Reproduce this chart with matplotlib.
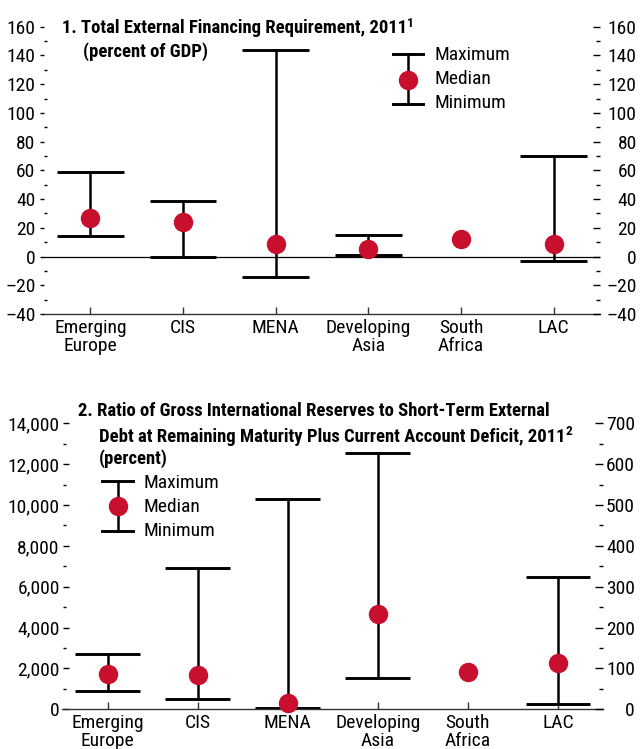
import numpy as np
import matplotlib
matplotlib.use("Agg")
import matplotlib.pyplot as plt
from matplotlib import font_manager as fm
from matplotlib.ticker import MultipleLocator, FixedLocator

# ---------------- data ----------------
categories = ["Emerging\nEurope", "CIS", "MENA", "Developing\nAsia", "South\nAfrica", "LAC"]

# Panel 1: total external financing requirement (percent of GDP)
fin_max = [59, 39, 144, 15, np.nan, 70]
fin_median = [27, 24, 9, 5, 12, 9]
fin_min = [14, 0, -14, 1, np.nan, -3]

# Panel 2: reserves ratio (percent)
res_max = [2690, 6900, 10300, 12550, np.nan, 6500]
res_median = [1720, 1700, 330, 4650, 1830, 2250]
res_min = [880, 500, 80, 1550, np.nan, 250]

fin_ticks = list(range(-40, 161, 20))
res_left_ticks = list(range(0, 14001, 2000))
res_right_ticks = list(range(0, 701, 100))

title1 = "1. Total External Financing Requirement, 2011"
title1_sup = "1"
subtitle1 = "(percent of GDP)"
title2a = "2. Ratio of Gross International Reserves to Short-Term External"
title2b = "Debt at Remaining Maturity Plus Current Account Deficit, 2011"
title2b_sup = "2"
subtitle2 = "(percent)"
legend_labels = ["Maximum", "Median", "Minimum"]

RED = "#C8102E"


# ---------------- fonts ----------------
def pick_font():
    entries = fm.fontManager.ttflist
    names = {e.name for e in entries}
    for cand in ["Liberation Sans Narrow", "Arial Narrow", "Roboto Condensed", "Open Sans Condensed"]:
        if cand in names:
            return cand, "normal"
    for e in entries:
        if e.name == "DejaVu Sans" and str(e.stretch) in ("condensed", "semi-condensed"):
            return "DejaVu Sans", "condensed"
    return "Liberation Sans", "normal"


FAMILY, STRETCH = pick_font()
plt.rcParams["font.family"] = [FAMILY, "DejaVu Sans"]
plt.rcParams["font.stretch"] = STRETCH
FS = 14

W, H = 641, 749
fig = plt.figure(figsize=(W / 100, H / 100), dpi=100)
renderer = fig.canvas.get_renderer()

# size the bold titles so the long second line spans about as wide as in the original
_probe = fig.text(0, 0, title2b, fontsize=14, fontweight="bold")
_w = _probe.get_window_extent(renderer).width
_probe.remove()
TFS = float(np.clip(14 * 470.0 / _w, 11, 16))


def px_axes(l, t, r, b):
    return fig.add_axes([l / W, 1 - b / H, (r - l) / W, (b - t) / H])


def dash(v):
    return ("\u2013" + str(abs(v))) if v < 0 else str(v)


def title_text(xpx, ypx, txt, sup=None):
    t = fig.text(xpx / W, 1 - ypx / H, txt, ha="left", va="baseline",
                 fontsize=TFS, fontweight="bold")
    if sup:
        bb = t.get_window_extent(renderer)
        fig.text((bb.x1 - 0.5) / W, 1 - (ypx - 6.5) / H, sup, ha="left",
                 va="baseline", fontsize=TFS * 0.72, fontweight="bold")


def draw_panel(ax, vmax, vmed, vmin):
    x = np.arange(len(categories))
    vmax = np.asarray(vmax, float)
    vmin = np.asarray(vmin, float)
    ok = ~np.isnan(vmax)
    ax.vlines(x[ok], vmin[ok], vmax[ok], color="black", lw=1.8, zorder=2)
    ax.hlines(vmax[ok], x[ok] - 0.36, x[ok] + 0.36, color="black", lw=2.1, zorder=2)
    ax.hlines(vmin[ok], x[ok] - 0.36, x[ok] + 0.36, color="black", lw=2.1, zorder=2)
    ax.plot(x, vmed, "o", ms=13, color=RED, mec=RED, zorder=4, clip_on=False)
    ax.set_xlim(-0.5, len(categories) - 0.5)
    ax.set_xticks(x)
    ax.set_xticklabels(categories, fontsize=FS, linespacing=1.0)
    ax.tick_params(axis="x", direction="in", length=4.8, width=1.0, pad=3.5,
                   color="#333333")
    for s in ("left", "right", "top"):
        ax.spines[s].set_visible(False)
    ax.spines["bottom"].set_color("#333333")
    ax.spines["bottom"].set_linewidth(1.0)
    ax.set_facecolor("none")


def legend_glyph(ax, xl, xr, ymax, ymed, ymin, xt, ty):
    xc = (xl + xr) / 2
    kw = dict(transform=ax.transAxes, clip_on=False, color="black")
    ax.plot([xc, xc], [ymin, ymax], lw=1.8, **kw)
    ax.plot([xl, xr], [ymax, ymax], lw=2.1, **kw)
    ax.plot([xl, xr], [ymin, ymin], lw=2.1, **kw)
    ax.plot([xc], [ymed], "o", ms=13, mec=RED, transform=ax.transAxes,
            clip_on=False, color=RED, zorder=5)
    for lab, yy in zip(legend_labels, ty):
        ax.text(xt, yy, lab, transform=ax.transAxes, ha="left", va="center",
                fontsize=FS)


# ---------------- panel 1 ----------------
ax1 = px_axes(44, 26.7, 600, 314)
draw_panel(ax1, fin_max, fin_median, fin_min)
ax1.axhline(0, color="black", lw=0.9, zorder=1)
ax1.set_ylim(-40, 160)
ax1.yaxis.set_major_locator(FixedLocator(fin_ticks))
ax1.set_yticklabels([dash(v) for v in fin_ticks], fontsize=FS)
ax1.yaxis.set_minor_locator(MultipleLocator(10))
ax1.tick_params(axis="y", which="major", direction="out", length=3.2, width=1.0, pad=3.0)
ax1.tick_params(axis="y", which="minor", direction="in", length=2.4, width=1.0)

ax1r = ax1.twinx()
ax1r.set_ylim(-40, 160)
ax1r.yaxis.set_major_locator(FixedLocator(fin_ticks))
ax1r.set_yticklabels([dash(v) for v in fin_ticks], fontsize=FS)
ax1r.yaxis.set_minor_locator(MultipleLocator(10))
ax1r.tick_params(axis="y", which="major", direction="in", length=5.0, width=1.0, pad=26.5)
ax1r.tick_params(axis="y", which="minor", direction="in", length=2.8, width=1.0)
plt.setp(ax1r.get_yticklabels(), ha="right")
for s in ax1r.spines.values():
    s.set_visible(False)

legend_glyph(ax1, 0.6277, 0.6817, 0.905, 0.8145, 0.731, 0.703, [0.903, 0.817, 0.733])

title_text(62, 33.3, title1, title1_sup)
title_text(83, 56.5, subtitle1)

# ---------------- panel 2 ----------------
ax2 = px_axes(62.5, 423.3, 603, 709.3)
draw_panel(ax2, res_max, res_median, res_min)
ax2.set_ylim(0, 14000)
ax2.yaxis.set_major_locator(FixedLocator(res_left_ticks))
ax2.set_yticklabels([f"{v:,}" for v in res_left_ticks], fontsize=FS)
ax2.yaxis.set_minor_locator(MultipleLocator(1000))
ax2.tick_params(axis="y", which="major", direction="in", length=4.5, width=1.0, pad=2.0)
ax2.tick_params(axis="y", which="minor", direction="in", length=2.4, width=1.0)

ax2r = ax2.twinx()
ax2r.set_ylim(0, 700)
ax2r.yaxis.set_major_locator(FixedLocator(res_right_ticks))
ax2r.set_yticklabels([str(v) for v in res_right_ticks], fontsize=FS)
ax2r.yaxis.set_minor_locator(MultipleLocator(50))
ax2r.tick_params(axis="y", which="major", direction="in", length=5.5, width=1.0, pad=23.0)
ax2r.tick_params(axis="y", which="minor", direction="in", length=2.8, width=1.0)
plt.setp(ax2r.get_yticklabels(), ha="right")
for s in ax2r.spines.values():
    s.set_visible(False)

legend_glyph(ax2, 0.0734, 0.1307, 0.798, 0.7108, 0.6234, 0.1497, [0.791, 0.7073, 0.6234])

title_text(78, 415.7, title2a)
title_text(99, 441.7, title2b, title2b_sup)
title_text(99, 463.5, subtitle2)

fig.savefig("out.png", dpi=100)
